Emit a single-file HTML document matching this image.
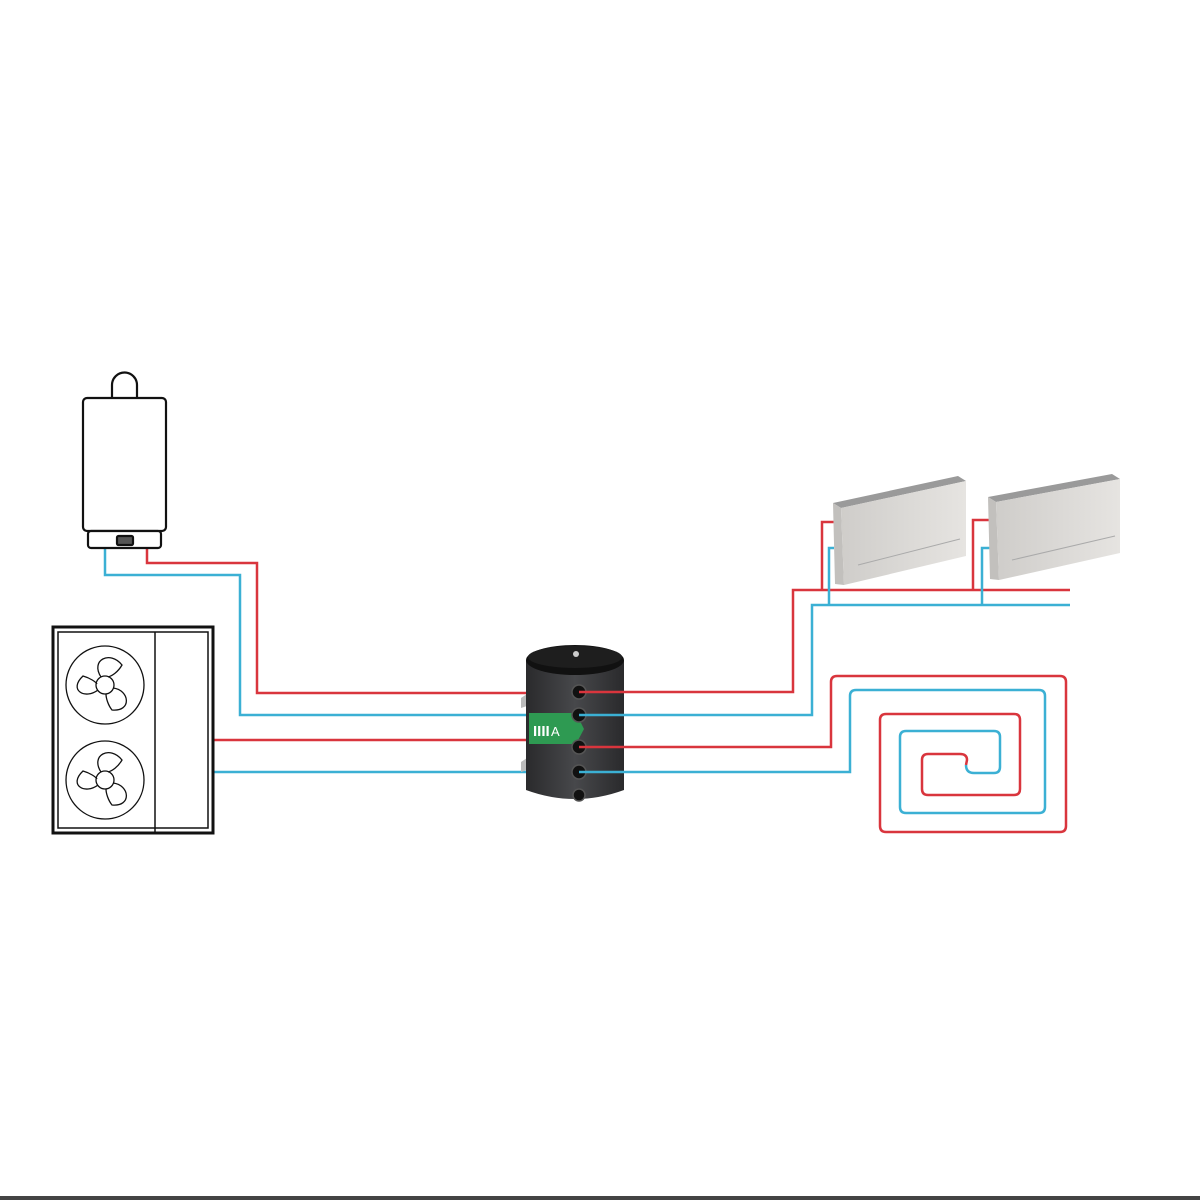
<!DOCTYPE html>
<html><head><style>body{margin:0;background:#fff}svg{display:block}</style></head><body>
<svg width="1200" height="1200" viewBox="0 0 1200 1200" xmlns="http://www.w3.org/2000/svg">
<defs>
<linearGradient id="tk" x1="0" x2="1"><stop offset="0" stop-color="#2a2a2c"/><stop offset="0.5" stop-color="#47484b"/><stop offset="1" stop-color="#2a2a2c"/></linearGradient>
<linearGradient id="fc" x1="0" x2="1"><stop offset="0" stop-color="#cfcdca"/><stop offset="1" stop-color="#e6e4e1"/></linearGradient>
</defs>
<g fill="none" stroke-width="2.5" stroke-linejoin="miter">
<!-- boiler pipes -->
<polyline stroke="#3bb0d4" points="105,548 105,575 240,575 240,715 527,715"/>
<polyline stroke="#d9353d" points="147,548 147,563 257,563 257,693 527,693"/>
<line stroke="#d9353d" x1="213" y1="740" x2="527" y2="740"/>
<line stroke="#3bb0d4" x1="213" y1="772" x2="527" y2="772"/>
<!-- fan coils -->
<polyline stroke="#d9353d" points="579,692 793,692 793,590 1070,590"/>
<polyline stroke="#3bb0d4" points="579,715 812,715 812,605 1070,605"/>
<polyline stroke="#d9353d" points="822,590 822,522 834,522"/>
<polyline stroke="#3bb0d4" points="829,605 829,548 834,548"/>
<polyline stroke="#d9353d" points="973,590 973,520 990,520"/>
<polyline stroke="#3bb0d4" points="982,605 982,548 990,548"/>
<!-- floor -->
<path stroke="#d9353d" d="M579,747 H831 V682 Q831,676 837,676 H1060 Q1066,676 1066,682 V826 Q1066,832 1060,832 H886 Q880,832 880,826 V720 Q880,714 886,714 H1014 Q1020,714 1020,720 V789 Q1020,795 1014,795 H928 Q922,795 922,789 V760 Q922,754 928,754 H960 Q967,754 967,760 L966,765"/>
<path stroke="#3bb0d4" d="M579,772 H850 V696 Q850,690 856,690 H1039 Q1045,690 1045,696 V807 Q1045,813 1039,813 H906 Q900,813 900,807 V737 Q900,731 906,731 H994 Q1000,731 1000,737 V767 Q1000,773 994,773 H974 Q966,773 966,765"/>
</g>
<!-- boiler -->
<g fill="#fff" stroke="#111" stroke-width="2.2">
<path d="M112,398 V385 A12.5,12.5 0 0 1 137,385 V398"/>
<rect x="83" y="398" width="83" height="133" rx="4"/>
<rect x="88" y="531" width="73" height="17" rx="3"/>
<rect x="117" y="536" width="16" height="9" rx="1.5" fill="#555"/>
</g>
<!-- heat pump -->
<g fill="none" stroke="#111">
<rect x="53" y="627" width="160" height="206" stroke-width="3"/>
<rect x="58" y="632" width="150" height="196" stroke-width="1.5"/>
<line x1="155" y1="632" x2="155" y2="833" stroke-width="1.5"/>
<g stroke-width="1.3">
<circle cx="105" cy="685" r="39"/><circle cx="105" cy="685" r="9"/>
<path d="M101,677 C90,660 110,650 122,665 C118,672 112,676 108,677 M113,688 C130,690 132,712 112,710 C108,705 106,698 106,694 M98,690 C85,700 68,690 83,676 C90,678 96,682 97,684"/>
<circle cx="105" cy="780" r="39"/><circle cx="105" cy="780" r="9"/>
<path d="M101,772 C90,755 110,745 122,760 C118,767 112,771 108,772 M113,783 C130,785 132,807 112,805 C108,800 106,793 106,789 M98,785 C85,795 68,785 83,771 C90,773 96,777 97,779"/>
</g>
</g>
<!-- tank -->
<path d="M521,698 l6,-4 v12 l-6,2z M521,762 l6,-4 v12 l-6,2z" fill="#bbb"/>
<path d="M526,660 V790 Q575,808 624,790 V660 Z" fill="url(#tk)"/>
<ellipse cx="575" cy="660" rx="49" ry="15" fill="#111"/>
<ellipse cx="575" cy="657" rx="47" ry="11" fill="#1e1e1e"/>
<circle cx="576" cy="654" r="3" fill="#ccc"/>
<path d="M529,713 H576 L584,729 L576,744 H529Z" fill="#2e9a52"/>
<text x="533" y="736" font-family="Liberation Sans,sans-serif" font-size="15" fill="#fff" font-weight="bold">IIII</text>
<text x="551" y="736" font-family="Liberation Sans,sans-serif" font-size="13" fill="#fff">A</text>
<g fill="#111" stroke="#555" stroke-width="1.5">
<circle cx="579" cy="692" r="7"/><circle cx="579" cy="715" r="7"/><circle cx="579" cy="747" r="7"/><circle cx="579" cy="772" r="7"/><circle cx="579" cy="795" r="6"/>
</g>
<g stroke-width="2.5"><line x1="579" y1="692" x2="624" y2="692" stroke="#d9353d"/><line x1="579" y1="715" x2="624" y2="715" stroke="#3bb0d4"/><line x1="579" y1="747" x2="624" y2="747" stroke="#d9353d"/><line x1="579" y1="772" x2="624" y2="772" stroke="#3bb0d4"/></g>
<!-- fan coil units -->
<g>
<polygon points="833,503 958,476 966,481 841,508" fill="#9a9a9a"/>
<polygon points="833,503 841,508 844,585 835,584" fill="#c2c0bd"/>
<polygon points="841,508 966,481 966,556 844,585" fill="url(#fc)"/>
<line x1="858" y1="565" x2="960" y2="539" stroke="#aaa"/>
<polygon points="988,497 1112,474 1120,479 996,502" fill="#9a9a9a"/>
<polygon points="988,497 996,502 999,580 990,579" fill="#c2c0bd"/>
<polygon points="996,502 1120,479 1120,553 999,580" fill="url(#fc)"/>
<line x1="1012" y1="560" x2="1115" y2="536" stroke="#aaa"/>
</g>
<rect x="0" y="1196" width="1200" height="4" fill="#444"/>
</svg>
</body></html>
